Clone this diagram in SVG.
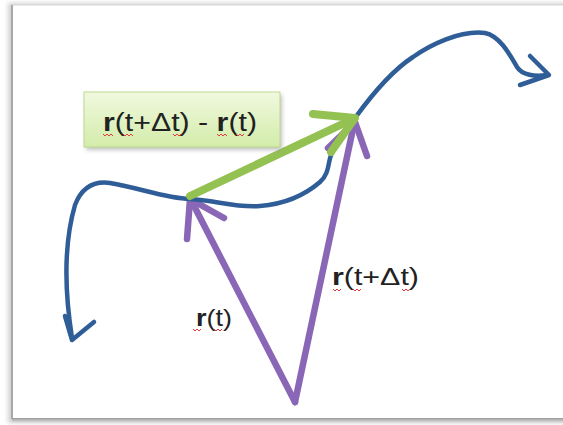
<svg xmlns="http://www.w3.org/2000/svg" width="563" height="425" viewBox="0 0 563 425">
<defs>
<linearGradient id="boxg" x1="0" y1="0" x2="0" y2="1">
<stop offset="0" stop-color="#f1f9df"/>
<stop offset="1" stop-color="#d3ecaa"/>
</linearGradient>
<linearGradient id="botg" x1="0" y1="0" x2="0" y2="1">
<stop offset="0" stop-color="#9a9a9a"/>
<stop offset="1" stop-color="#e6e6e6"/>
</linearGradient>
<filter id="blur" x="-10%" y="-10%" width="130%" height="140%">
<feGaussianBlur stdDeviation="2"/>
</filter>
</defs>
<style>
.blue{fill:none;stroke:#2f5d97;stroke-width:4.5;stroke-linecap:round;stroke-linejoin:round}
.green{fill:none;stroke:#93c152;stroke-width:8;stroke-linecap:round;stroke-linejoin:round}
.purple{fill:none;stroke:#8a66b6;stroke-width:6.5;stroke-linecap:round;stroke-linejoin:round}
.lbl{font-family:"Liberation Sans",Arial,sans-serif;fill:#222}
.b{font-weight:bold}
.sq{fill:none;stroke:#e03a3a;stroke-width:1}
</style>
<rect x="0" y="0" width="563" height="425" fill="#ffffff"/>
<g id="frame">
<rect x="8" y="3" width="560" height="420" fill="#d0d0d0" filter="url(#blur)"/>
<rect x="12" y="5" width="556" height="414" fill="#ffffff" stroke="#d6d6d6" stroke-width="1"/>
<line x1="12" y1="5" x2="12" y2="419" stroke="#a8a8a8" stroke-width="2"/>
<rect x="12" y="418" width="551" height="5" fill="url(#botg)"/>
</g>
<g id="connectors">
<g id="r_t">
<path class="purple" d="M295,402 L191,200"/>
<path class="purple" d="M187,239 L190,199 L224,218"/>
</g>
<g id="r_t_dt">
<path class="purple" d="M295,402 L354,124"/>
<path class="purple" d="M328,148 L355,122 L367,156"/>
</g>
<g id="curve">
<path class="blue" d="M72,338 C66,300 62,250 75,205 C82,187 95,181 110,183 C140,188 165,198 190,199 C215,200 235,208 260,206 C285,204 305,195 320,182 C331,172 327,160 333,151 L355,118 C368,100 390,72 413,57 C430,45 460,30 485,33 C500,36 510,55 517,67 C522,75 535,77 547,75"/>
<path class="blue" d="M65,316 L72,340 L94,322"/>
<path class="blue" d="M530,56 L549,75 L520,85"/>
</g>
<g id="diff">
<path class="green" d="M190,196 L351,120"/>
<path class="green" d="M313,114 L355,118 L331,152"/>
</g>
</g>
<g id="label_box">
<rect x="86" y="95" width="196" height="55" fill="#9a9a9a" opacity="0.6" filter="url(#blur)"/>
<rect x="84" y="92" width="196" height="55" fill="url(#boxg)" stroke="#bcd98e" stroke-width="1"/>
<text class="lbl" x="103" y="131" font-size="25" textLength="154" lengthAdjust="spacingAndGlyphs"><tspan class="b">r</tspan>(t+Δt) - <tspan class="b">r</tspan>(t)</text>
<path class="sq" d="M103,134 l2,2 l2,-2 l2,2 l2,-2 l2,2"/>
<path class="sq" d="M123,134 l2,2 l2,-2 l2,2 l2,-2 l2,2"/>
<path class="sq" d="M173,134 l2,2 l2,-2 l2,2 l2,-2"/>
<path class="sq" d="M217,134 l2,2 l2,-2 l2,2 l2,-2 l2,2"/>
<path class="sq" d="M236,134 l2,2 l2,-2 l2,2 l2,-2"/>
</g>
<g id="label_rt">
<text class="lbl" x="196" y="326" font-size="24" textLength="36" lengthAdjust="spacingAndGlyphs"><tspan class="b">r</tspan>(t)</text>
<path class="sq" d="M193,329 l2,2 l2,-2 l2,2 l2,-2"/>
<path class="sq" d="M214,329 l2,2 l2,-2 l2,2 l2,-2"/>
</g>
<g id="label_rtdt">
<text class="lbl" x="332" y="285" font-size="23" textLength="87" lengthAdjust="spacingAndGlyphs"><tspan class="b">r</tspan>(t+Δt)</text>
<path class="sq" d="M333,289 l2,2 l2,-2 l2,2 l2,-2"/>
<path class="sq" d="M353,289 l2,2 l2,-2 l2,2 l2,-2"/>
<path class="sq" d="M402,289 l2,2 l2,-2 l2,2 l2,-2"/>
</g>
</svg>
